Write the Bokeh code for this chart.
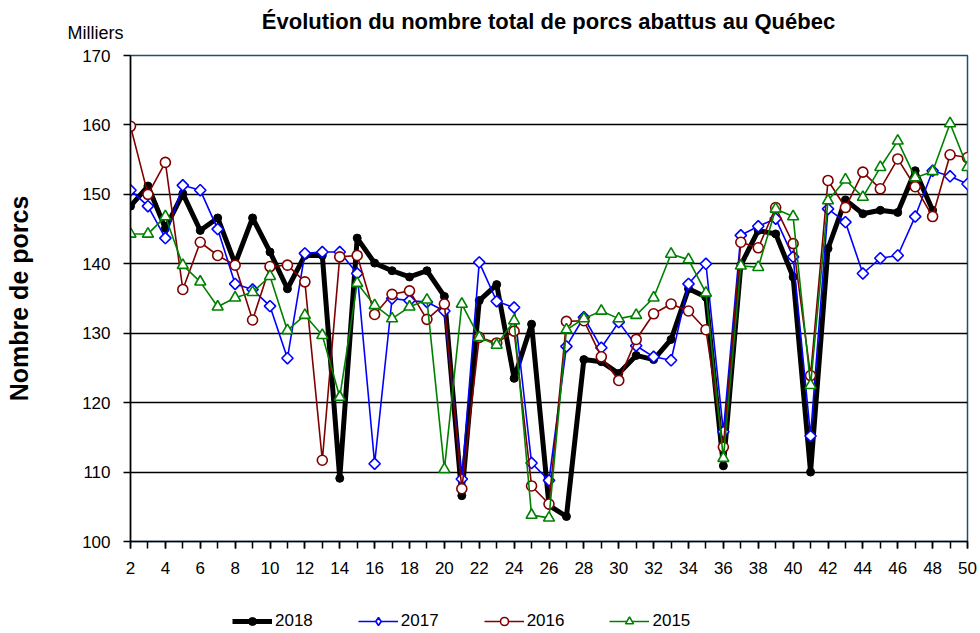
from math import pi
from bokeh.plotting import figure
from bokeh.models import Range1d, FixedTicker, Legend, LegendItem, Label
from bokeh.embed import file_html
from bokeh.resources import INLINE

weeks = list(range(2, 51))
weeks_2018 = list(range(2, 49))

s2018 = [148.3, 151.2, 145.1, 150.1, 144.8, 146.6, 140.0, 146.6, 141.7, 136.4,
         141.2, 141.2, 109.1, 143.7, 140.1, 139.0, 138.1, 139.0, 135.3, 106.6,
         134.7, 137.0, 123.5, 131.3, 105.2, 103.6, 126.2, 125.9, 124.2, 126.8,
         126.2, 129.1, 136.4, 135.2, 110.9, 139.8, 144.8, 144.3, 138.1, 110.0,
         142.2, 149.2, 147.2, 147.7, 147.4, 153.4, 147.7]

s2017 = [150.6, 148.3, 143.7, 151.3, 150.6, 145.0, 137.1, 136.3, 133.9, 126.4,
         141.5, 141.7, 141.7, 138.6, 111.2, 135.0, 134.7, 134.5, 133.2, 109.0,
         140.2, 134.6, 133.7, 111.3, 108.8, 128.1, 132.3, 127.9, 131.6, 128.2,
         126.6, 126.1, 137.1, 140.0, 115.8, 144.1, 145.4, 146.5, 141.0, 115.2,
         147.9, 146.0, 138.6, 140.8, 141.2, 146.8, 153.4, 152.6, 151.5]

s2016 = [159.8, 150.0, 154.6, 136.3, 143.1, 141.2, 139.8, 131.9, 139.6, 139.8,
         137.4, 111.7, 141.0, 141.2, 132.7, 135.6, 136.1, 132.0, 134.2, 107.6,
         129.4, 128.6, 130.3, 108.0, 105.4, 131.7, 131.8, 126.6, 123.2, 129.1,
         132.8, 134.2, 133.2, 130.5, 113.6, 143.1, 142.3, 148.1, 142.9, 123.9,
         152.0, 148.1, 153.2, 150.8, 155.1, 151.1, 146.8, 155.7, 155.3]

s2015 = [144.3, 144.3, 146.8, 139.8, 137.4, 133.8, 135.1, 135.9, 138.2, 130.4,
         132.6, 129.7, 120.8, 137.2, 134.0, 132.1, 133.8, 134.8, 110.4, 134.2,
         129.4, 128.3, 131.8, 103.8, 103.4, 130.5, 132.1, 133.2, 132.1, 132.6,
         135.1, 141.4, 140.6, 135.8, 112.0, 139.7, 139.5, 147.9, 146.8, 122.5,
         149.1, 152.1, 149.6, 153.9, 157.7, 152.4, 153.3, 160.2, 153.9]

series_names = ["2018", "2017", "2016", "2015"]
x_ticks = list(range(2, 51, 2))
y_ticks = list(range(100, 171, 10))
grid_ticks = list(range(110, 170, 10))

FONT = "Liberation Sans"
W = 980

# ---------- header: title and unit ----------
head = figure(width=W, height=45, output_backend="svg", toolbar_location=None,
              x_axis_location=None, y_axis_location=None, min_border=0,
              x_range=Range1d(0, 1), y_range=Range1d(0, 1),
              outline_line_color=None)
head.grid.visible = False
head.add_layout(Label(x=548, y=24, x_units="screen", y_units="screen",
                      text="Évolution du nombre total de porcs abattus au Québec",
                      text_font=FONT, text_font_size="22px",
                      text_font_style="bold", text_align="center",
                      text_baseline="middle", text_color="black"))
head.add_layout(Label(x=67, y=13, x_units="screen", y_units="screen",
                      text="Milliers", text_font=FONT, text_font_size="18px",
                      text_align="left", text_baseline="middle",
                      text_color="black"))

# ---------- main chart ----------
p = figure(width=W, height=545, output_backend="svg", toolbar_location=None,
           x_range=Range1d(2, 50), y_range=Range1d(100, 170),
           min_border_left=130, min_border_right=13, min_border_top=10,
           min_border_bottom=49)

p.outline_line_color = "#1f4e6e"
p.outline_line_width = 1.5
p.background_fill_color = "white"
p.border_fill_color = "white"

p.xgrid.visible = False
p.ygrid.ticker = FixedTicker(ticks=grid_ticks)
p.ygrid.grid_line_color = "black"
p.ygrid.grid_line_width = 1.3

p.xaxis.ticker = FixedTicker(ticks=x_ticks, minor_ticks=weeks)
p.yaxis.ticker = FixedTicker(ticks=y_ticks, minor_ticks=[])
for ax in (p.xaxis, p.yaxis):
    ax.axis_line_color = "black"
    ax.axis_line_width = 1.5
    ax.major_tick_line_color = "black"
    ax.major_tick_line_width = 1.5
    ax.major_tick_in = 0
    ax.major_tick_out = 7
    ax.minor_tick_line_color = "black"
    ax.minor_tick_line_width = 1.5
    ax.minor_tick_in = 0
    ax.minor_tick_out = 7
    ax.major_label_text_font = FONT
    ax.major_label_text_font_size = "17px"
    ax.major_label_text_color = "black"
p.yaxis.minor_tick_line_color = None
p.yaxis.major_label_standoff = 13
p.xaxis.major_label_standoff = 13

p.yaxis.axis_label = "Nombre de porcs"
p.yaxis.axis_label_text_font = FONT
p.yaxis.axis_label_text_font_size = "25px"
p.yaxis.axis_label_text_font_style = "bold"
p.yaxis.axis_label_text_color = "black"
p.yaxis.axis_label_standoff = 46

p.line(weeks_2018, s2018, line_color="black", line_width=5)
p.scatter(weeks_2018, s2018, marker="circle", size=8, fill_color="black",
          line_color="black")

p.line(weeks, s2017, line_color="#0000ff", line_width=1.6)
p.scatter(weeks, s2017, marker="square", angle=pi / 4, size=8,
          fill_color="white", line_color="#0000ff", line_width=1.6)

p.line(weeks, s2016, line_color="#800000", line_width=1.6)
p.scatter(weeks, s2016, marker="circle", size=10, fill_color="white",
          line_color="#800000", line_width=1.6)

p.line(weeks, s2015, line_color="#008000", line_width=1.6)
p.scatter(weeks, s2015, marker="triangle", size=11, fill_color="white",
          line_color="#008000", line_width=1.6)

# ---------- legend strip ----------
lf = figure(width=W, height=43, output_backend="svg", toolbar_location=None,
            x_axis_location=None, y_axis_location=None, min_border=0,
            x_range=Range1d(0, 1), y_range=Range1d(0, 1),
            outline_line_color=None)
lf.grid.visible = False
styles = [
    dict(line=dict(line_color="black", line_width=5),
         mark=dict(marker="circle", size=8, fill_color="black", line_color="black")),
    dict(line=dict(line_color="#0000ff", line_width=1.6),
         mark=dict(marker="diamond", size=10, fill_color="white",
                   line_color="#0000ff", line_width=1.6)),
    dict(line=dict(line_color="#800000", line_width=1.6),
         mark=dict(marker="circle", size=8, fill_color="white",
                   line_color="#800000", line_width=1.6)),
    dict(line=dict(line_color="#008000", line_width=1.6),
         mark=dict(marker="triangle", size=8, fill_color="white",
                   line_color="#008000", line_width=1.6)),
]
items = []
for name, st in zip(series_names, styles):
    # off-range stand-ins so the legend has glyphs to sample
    rl = lf.line([-10, -9], [-10, -10], **st["line"])
    rm = lf.scatter([-10], [-10], **st["mark"])
    items.append(LegendItem(label=name, renderers=[rl, rm]))

legend = Legend(items=items, orientation="horizontal", location=(232, 2),
                glyph_width=40, glyph_height=20, label_standoff=3, spacing=45,
                padding=0, margin=0, border_line_color=None,
                background_fill_alpha=0, label_text_font=FONT,
                label_text_font_size="17px", label_text_color="black")
lf.add_layout(legend, "center")

open("out.html", "w").write(file_html([head, p, lf], INLINE))
